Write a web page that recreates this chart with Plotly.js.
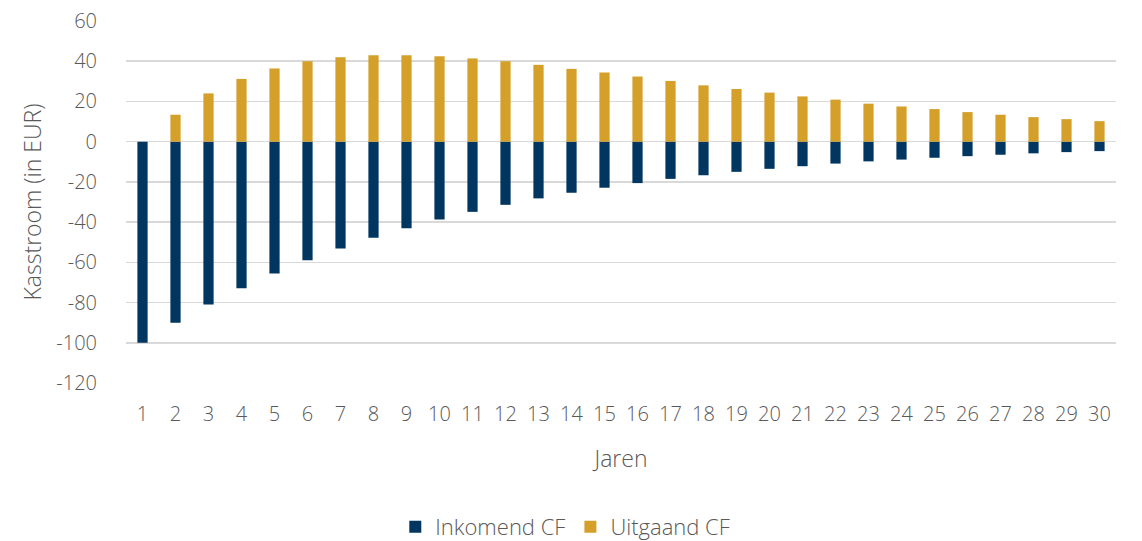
<!DOCTYPE html>
<html>
<head>
<meta charset="utf-8">
<script src="https://cdn.plot.ly/plotly-3.0.1.min.js"></script>
<style>html,body{margin:0;padding:0;background:#fff;}#chart{width:1142px;height:541px;}</style>
</head>
<body>
<div id="chart"></div>
<script>
const years = ['1','2','3','4','5','6','7','8','9','10','11','12','13','14','15','16','17','18','19','20','21','22','23','24','25','26','27','28','29','30'];
const inkomend = [-100,-90,-81,-72.9,-65.6,-59,-53.1,-47.8,-43,-38.7,-34.9,-31.4,-28.2,-25.4,-22.9,-20.6,-18.5,-16.7,-15,-13.5,-12.2,-10.9,-9.8,-8.9,-8,-7.2,-6.5,-5.8,-5.2,-4.7];
const uitgaand = [0,13.4,24,31.2,36.4,40,42,43,43,42.5,41.4,40,38.2,36.2,34.4,32.4,30.2,28,26.2,24.4,22.5,20.9,18.9,17.5,16.2,14.7,13.4,12.2,11.2,10.2];
const yTicks = [60,40,20,0,-20,-40,-60,-80,-100,-120];
const fontFam = 'Open Sans, Noto Sans, sans-serif';
const gray = '#595959';
const traces = [
  {type:'bar', name:'Inkomend CF', x:years, y:inkomend, marker:{color:'#00365f'}, width:0.31},
  {type:'bar', name:'Uitgaand CF', x:years, y:uitgaand, marker:{color:'#d4a02a'}, width:0.31}
];
const layout = {
  width:1142, height:541,
  margin:{l:126, r:26, t:21, b:158, autoexpand:false},
  barmode:'relative',
  paper_bgcolor:'#fff', plot_bgcolor:'#fff',
  font:{family:fontFam, color:gray, size:20, weight:300},
  showlegend:true,
  legend:{orientation:'h', xref:'container', yref:'container', x:0.495, xanchor:'center', y:0.026, yanchor:'middle',
          font:{size:22, color:gray, weight:300}, itemwidth:30, traceorder:'normal'},
  xaxis:{type:'category', tickfont:{size:20, color:gray, weight:300}, ticks:'outside', ticklen:13, tickcolor:'rgba(0,0,0,0)',
         showgrid:false, zeroline:false, showline:false, automargin:false,
         title:{text:'Jaren', font:{size:23, color:gray, weight:300}, standoff:24}},
  yaxis:{range:[-120,60], tickvals:yTicks, ticktext:yTicks.map(String), tickfont:{size:20, color:gray, weight:300},
         ticks:'outside', ticklen:24, tickcolor:'rgba(0,0,0,0)', automargin:false,
         showgrid:true, gridcolor:'#d9d9d9', gridwidth:1.5, zeroline:true, zerolinecolor:'#d9d9d9', zerolinewidth:1.5, showline:false,
         title:{text:'Kasstroom (in EUR)', font:{size:23, color:gray, weight:300}, standoff:8}}
};
Plotly.newPlot('chart', traces, layout, {displayModeBar:false, staticPlot:true});
</script>
</body>
</html>
